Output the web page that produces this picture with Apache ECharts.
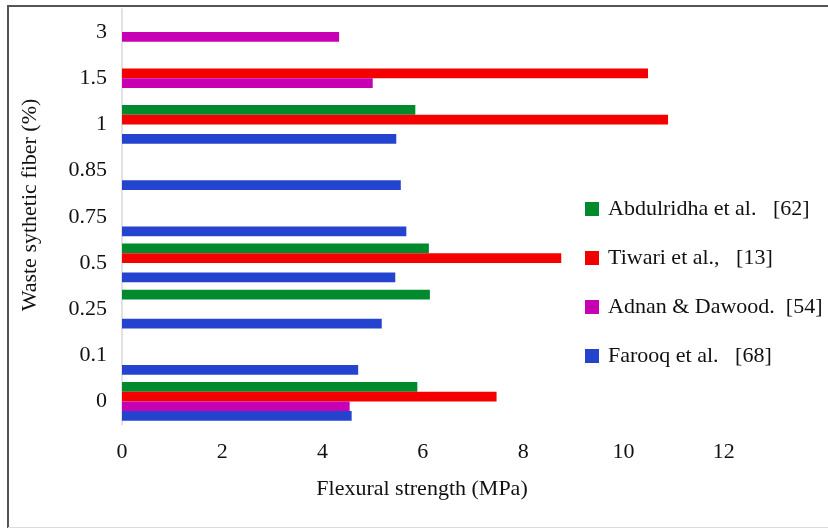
<!DOCTYPE html>
<html>
<head>
<meta charset="utf-8">
<script src="https://cdn.jsdelivr.net/npm/echarts@6/dist/echarts.min.js"></script>
<style>html,body{margin:0;padding:0;background:#fff;}#c{width:828px;height:529px;}</style>
</head>
<body>
<div id="c"></div>
<script>
var categories = ['0', '0.1', '0.25', '0.5', '0.75', '0.85', '1', '1.5', '3'];
var abdulridha = [5.89, null, 6.14, 6.12, null, null, 5.85, null, null];
var tiwari = [7.47, null, null, 8.76, null, null, 10.89, 10.49, null];
var adnan = [4.54, null, null, null, null, null, null, 5.00, 4.33];
var farooq = [4.58, 4.71, 5.18, 5.45, 5.67, 5.56, 5.47, null, null];
var seriesNames = ['Abdulridha et al.   [62]', 'Tiwari et al.,   [13]', 'Adnan & Dawood.  [54]', 'Farooq et al.   [68]'];
var xTicks = [0, 2, 4, 6, 8, 10, 12];

var FONT = '"Liberation Serif", "Times New Roman", serif';
var colors = ['#008A2E', '#F40000', '#C800B4', '#2443CF'];
var datasets = [abdulridha, tiwari, adnan, farooq];

var chart = echarts.init(document.getElementById('c'), null, {renderer: 'canvas'});
var series = datasets.map(function (d, i) {
  return {
    name: seriesNames[i],
    type: 'bar',
    data: d,
    barWidth: 9.7,
    barGap: '0%',
    itemStyle: {color: colors[i]},
    emphasis: {disabled: true},
    animation: false
  };
});

chart.setOption({
  animation: false,
  color: colors,
  grid: {left: 122, right: 4, top: 9, bottom: 104.5, containLabel: false},
  xAxis: {
    type: 'value',
    min: 0, max: 14, interval: 2,
    axisLine: {show: false},
    axisTick: {show: false},
    splitLine: {show: false},
    axisLabel: {
      fontFamily: FONT, fontSize: 22, color: '#111', margin: 17,
      formatter: function (v) { return xTicks.indexOf(v) >= 0 ? String(v) : ''; }
    }
  },
  yAxis: {
    type: 'category',
    data: categories,
    axisLine: {show: true, lineStyle: {color: '#d9d9d9', width: 1.5}},
    axisTick: {show: false},
    splitLine: {show: false},
    axisLabel: {fontFamily: FONT, fontSize: 22, color: '#111', margin: 15}
  },
  legend: {
    orient: 'vertical',
    left: 580, top: 193,
    itemWidth: 14, itemHeight: 14, itemGap: 27,
    icon: 'rect',
    selectedMode: false,
    textStyle: {fontFamily: FONT, fontSize: 22, color: '#111', padding: [0, 0, 0, 4]},
    data: seriesNames
  },
  graphic: [
    {type: 'line', shape: {x1: 7, y1: 6, x2: 828, y2: 6}, style: {stroke: '#555', lineWidth: 2}},
    {type: 'line', shape: {x1: 8, y1: 6, x2: 8, y2: 528}, style: {stroke: '#555', lineWidth: 2}},
    {type: 'line', shape: {x1: 8, y1: 527.5, x2: 828, y2: 527.5}, style: {stroke: '#dcdcdc', lineWidth: 1}},
    {type: 'text', x: 30, y: 205, rotation: Math.PI / 2,
     style: {text: 'Waste sythetic fiber (%)', font: '22px ' + FONT, fill: '#111', textAlign: 'center', textVerticalAlign: 'middle'}},
    {type: 'text', x: 422, y: 489,
     style: {text: 'Flexural strength (MPa)', font: '22px ' + FONT, fill: '#111', textAlign: 'center', textVerticalAlign: 'middle'}}
  ],
  series: series
});
</script>
</body>
</html>
